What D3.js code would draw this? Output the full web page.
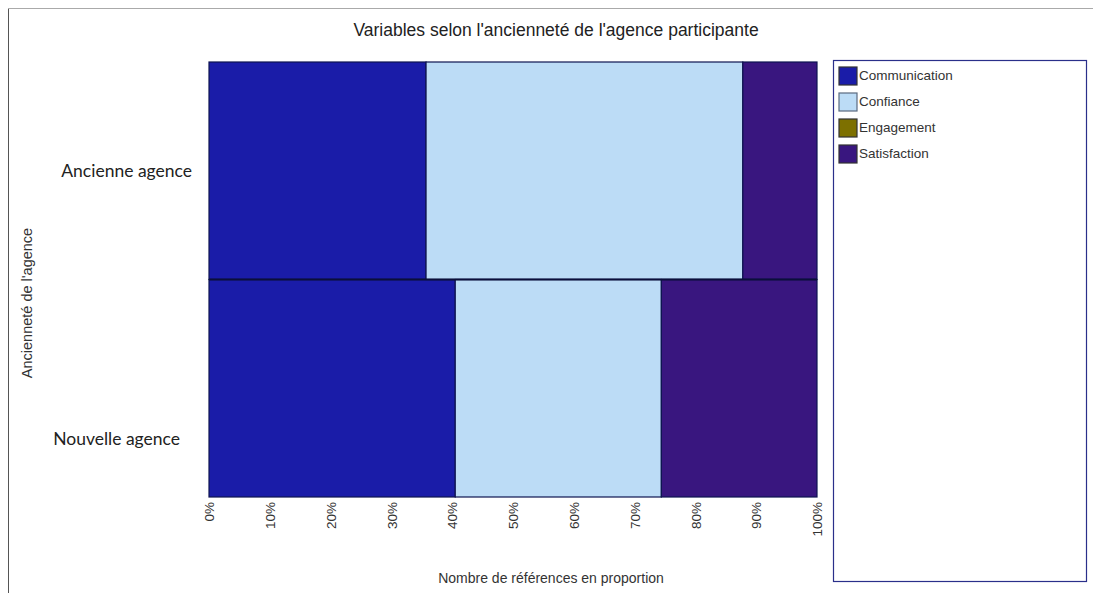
<!DOCTYPE html>
<html>
<head>
<meta charset="utf-8">
<script src="https://cdn.jsdelivr.net/npm/d3@7"></script>
<style>
  html, body { margin: 0; padding: 0; background: #fff; }
  svg { display: block; }
</style>
</head>
<body>
<svg id="chart" width="1093" height="593"></svg>
<script>
// Agency age groups (top to bottom)
const categories = ["Ancienne agence", "Nouvelle agence"];
// Variables, in stacking order
const seriesNames = ["Communication", "Confiance", "Engagement", "Satisfaction"];
// Share of references per variable, per group (fractions of 1)
const communication = [0.357, 0.405];
const confiance     = [0.521, 0.339];
const engagement    = [0.0, 0.0];
const satisfaction  = [0.122, 0.256];
const tickValues = [0, 0.1, 0.2, 0.3, 0.4, 0.5, 0.6, 0.7, 0.8, 0.9, 1.0];
const colors = ["#1a1ca8", "#bcdcf6", "#7d7000", "#39167f"];

const rows = categories.map((c, i) => ({
  category: c,
  Communication: communication[i],
  Confiance: confiance[i],
  Engagement: engagement[i],
  Satisfaction: satisfaction[i]
}));

const svg = d3.select("#chart");
const W = 1093, H = 593;
const sans = "Liberation Sans, Arial, sans-serif";

// outer frame
svg.append("line").attr("x1", 8.5).attr("x2", 8.5).attr("y1", 8).attr("y2", H)
  .attr("stroke", "#555").attr("stroke-width", 1);
svg.append("line").attr("x1", 8).attr("x2", W).attr("y1", 8.5).attr("y2", 8.5)
  .attr("stroke", "#aaa").attr("stroke-width", 1);

const plot = { left: 209, right: 817, top: 62, bottom: 497 };

const x = d3.scaleLinear().domain([0, 1]).range([plot.left, plot.right]);
const y = d3.scaleBand().domain(categories).range([plot.top, plot.bottom]).padding(0);
const color = d3.scaleOrdinal().domain(seriesNames).range(colors);

const stacked = d3.stack().keys(seriesNames)(rows);

svg.append("g").selectAll("g")
  .data(stacked).join("g")
  .attr("fill", d => color(d.key))
  .selectAll("rect")
  .data(d => d.filter(p => p[1] - p[0] > 0))
  .join("rect")
  .attr("x", d => x(d[0]))
  .attr("y", d => y(d.data.category))
  .attr("width", d => x(d[1]) - x(d[0]))
  .attr("height", y.bandwidth())
  .attr("stroke", "#0e1450")
  .attr("stroke-width", 1.2);

// divider between the two groups
svg.append("line")
  .attr("x1", plot.left).attr("x2", plot.right)
  .attr("y1", y(categories[1])).attr("y2", y(categories[1]))
  .attr("stroke", "#0b0f3a").attr("stroke-width", 2.2);

// x axis: rotated percentage labels
const xAxis = d3.axisBottom(x).tickValues(tickValues).tickSize(0).tickPadding(0)
  .tickFormat(d3.format(".0%"));
const gx = svg.append("g").attr("transform", `translate(0,${plot.bottom})`).call(xAxis);
gx.select(".domain").remove();
gx.selectAll("text")
  .attr("transform", "rotate(-90)")
  .attr("x", -5).attr("y", 0).attr("dy", "0.35em")
  .attr("text-anchor", "end")
  .attr("font-family", sans)
  .attr("font-size", 13.5)
  .attr("fill", "#333");

// y axis: category labels
const yAxis = d3.axisLeft(y).tickSize(0).tickPadding(0);
const gy = svg.append("g").attr("transform", `translate(${plot.left},0)`).call(yAxis);
gy.select(".domain").remove();
gy.selectAll("text")
  .attr("x", (d, i) => i === 0 ? -17 : -29)
  .attr("dy", (d, i) => i === 0 ? "0.38em" : "3.25em")
  .attr("font-family", "Lato, 'Open Sans', sans-serif")
  .attr("font-size", 17.5)
  .attr("fill", "#222");

// title
svg.append("text")
  .attr("x", 556).attr("y", 36)
  .attr("text-anchor", "middle")
  .attr("font-family", sans)
  .attr("font-size", 17.5)
  .attr("fill", "#222")
  .text("Variables selon l'ancienneté de l'agence participante");

// axis titles
svg.append("text")
  .attr("x", 551).attr("y", 583)
  .attr("text-anchor", "middle")
  .attr("font-family", sans)
  .attr("font-size", 14)
  .attr("fill", "#333")
  .text("Nombre de références en proportion");

svg.append("text")
  .attr("transform", "translate(32,303) rotate(-90)")
  .attr("text-anchor", "middle")
  .attr("font-family", sans)
  .attr("font-size", 14.5)
  .attr("fill", "#333")
  .text("Ancienneté de l'agence");

// legend
const lg = svg.append("g");
lg.append("rect")
  .attr("x", 833.5).attr("y", 60.5).attr("width", 253).attr("height", 521)
  .attr("fill", "#fff").attr("stroke", "#2a2f8a").attr("stroke-width", 1.2);

const items = lg.selectAll("g.item").data(seriesNames).join("g")
  .attr("class", "item")
  .attr("transform", (d, i) => `translate(839,${67 + i * 26})`);
items.append("rect")
  .attr("width", 18).attr("height", 18)
  .attr("fill", d => color(d))
  .attr("stroke", d => d === "Confiance" ? "#5a6a80" : "#333")
  .attr("stroke-width", 1.2);
items.append("text")
  .attr("x", 20).attr("y", 8).attr("dy", "0.35em")
  .attr("font-family", sans)
  .attr("font-size", 13.5)
  .attr("fill", "#333")
  .text(d => d);
</script>
</body>
</html>
